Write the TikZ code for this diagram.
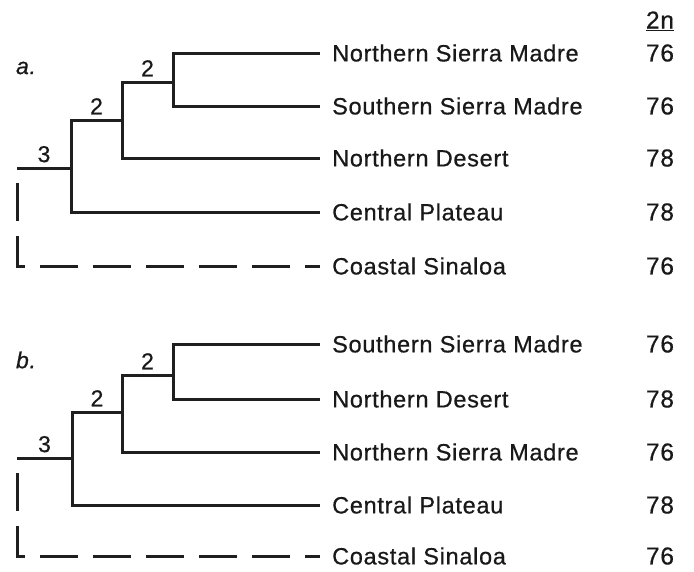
\documentclass[tikz,border=0pt]{standalone}
\usepackage{fontspec}
\setmainfont{Liberation Sans}[LetterSpace=3, FakeBold=0.6]
\usetikzlibrary{calc}
\begin{document}
\begin{tikzpicture}[x=1pt,y=-1pt,
  br/.style={line width=3pt, line cap=butt, line join=miter, color=black!88},
  dsh/.style={br, dash pattern=on 38pt off 15pt, dash phase=38pt},
  lab/.style={anchor=west, inner sep=0pt, font=\fontsize{23.5}{26}\selectfont, text=black!90},
  num/.style={inner sep=0pt, font=\fontsize{24.5}{26}\selectfont, text=black!90},
  cnt/.style={anchor=south, inner sep=0pt, font=\fontsize{23}{26}\selectfont, text=black!90, yshift=5.5pt},
  pan/.style={inner sep=0pt, font=\fontsize{23}{26}\selectfont\itshape, text=black!90}]
\fill[white] (0,0) rectangle (694,571);
\useasboundingbox (0,0) rectangle (694,571);
% header
\node[num] (hdr) at (660,21) {\underline{2n}};
% ---------- panel a ----------
\node[pan] (pa) at (26,68) {a.};
\node[lab] (a1) at (332,53) {Northern Sierra Madre};
\node[lab] (a2) at (332,106) {Southern Sierra Madre};
\node[lab] (a3) at (332,158) {Northern Desert};
\node[lab] (a4) at (332,212) {Central Plateau};
\node[lab] (a5) at (332,266) {Coastal Sinaloa};
\node[num] (na1) at (660,53) {76};
\node[num] (na2) at (660,106) {76};
\node[num] (na3) at (660,158) {78};
\node[num] (na4) at (660,212) {78};
\node[num] (na5) at (660,266) {76};
\coordinate (ai) at (173,82);
\coordinate (am) at (122,120);
\coordinate (ar) at (71,168);
\coordinate (aroot) at (17,168);
\draw[br] ($(a1.west)+(-12,0)$) -| (ai) |- ($(a2.west)+(-12,0)$);
\draw[br] (ai) -| (am) |- ($(a3.west)+(-12,0)$);
\draw[br] (am) -| (ar) |- ($(a4.west)+(-12,0)$);
\draw[br] (aroot) -- (ar);
\draw[dsh] (aroot) |- ($(a5.west)+(-12,0)$);
\node[cnt] (ca1) at ($(ai)!0.5!(ai -| am)$) {2};
\node[cnt] (ca2) at ($(am)!0.5!(am -| ar)$) {2};
\node[cnt] (ca3) at ($(ar)!0.5!(aroot)$) {3};
% ---------- panel b ----------
\node[pan] (pb) at (26,360) {b.};
\node[lab] (b1) at (332,344) {Southern Sierra Madre};
\node[lab] (b2) at (332,399) {Northern Desert};
\node[lab] (b3) at (332,452) {Northern Sierra Madre};
\node[lab] (b4) at (332,505) {Central Plateau};
\node[lab] (b5) at (332,556) {Coastal Sinaloa};
\node[num] (nb1) at (660,344) {76};
\node[num] (nb2) at (660,399) {78};
\node[num] (nb3) at (660,452) {76};
\node[num] (nb4) at (660,505) {78};
\node[num] (nb5) at (660,556) {76};
\coordinate (bi) at (173,375);
\coordinate (bm) at (122,412);
\coordinate (bro) at (72,458);
\coordinate (broot) at (17,458);
\draw[br] ($(b1.west)+(-12,0)$) -| (bi) |- ($(b2.west)+(-12,0)$);
\draw[br] (bi) -| (bm) |- ($(b3.west)+(-12,0)$);
\draw[br] (bm) -| (bro) |- ($(b4.west)+(-12,0)$);
\draw[br] (broot) -- (bro);
\draw[dsh] (broot) |- ($(b5.west)+(-12,0)$);
\node[cnt] (cb1) at ($(bi)!0.5!(bi -| bm)$) {2};
\node[cnt] (cb2) at ($(bm)!0.5!(bm -| bro)$) {2};
\node[cnt] (cb3) at ($(bro)!0.5!(broot)$) {3};
\end{tikzpicture}
\end{document}
